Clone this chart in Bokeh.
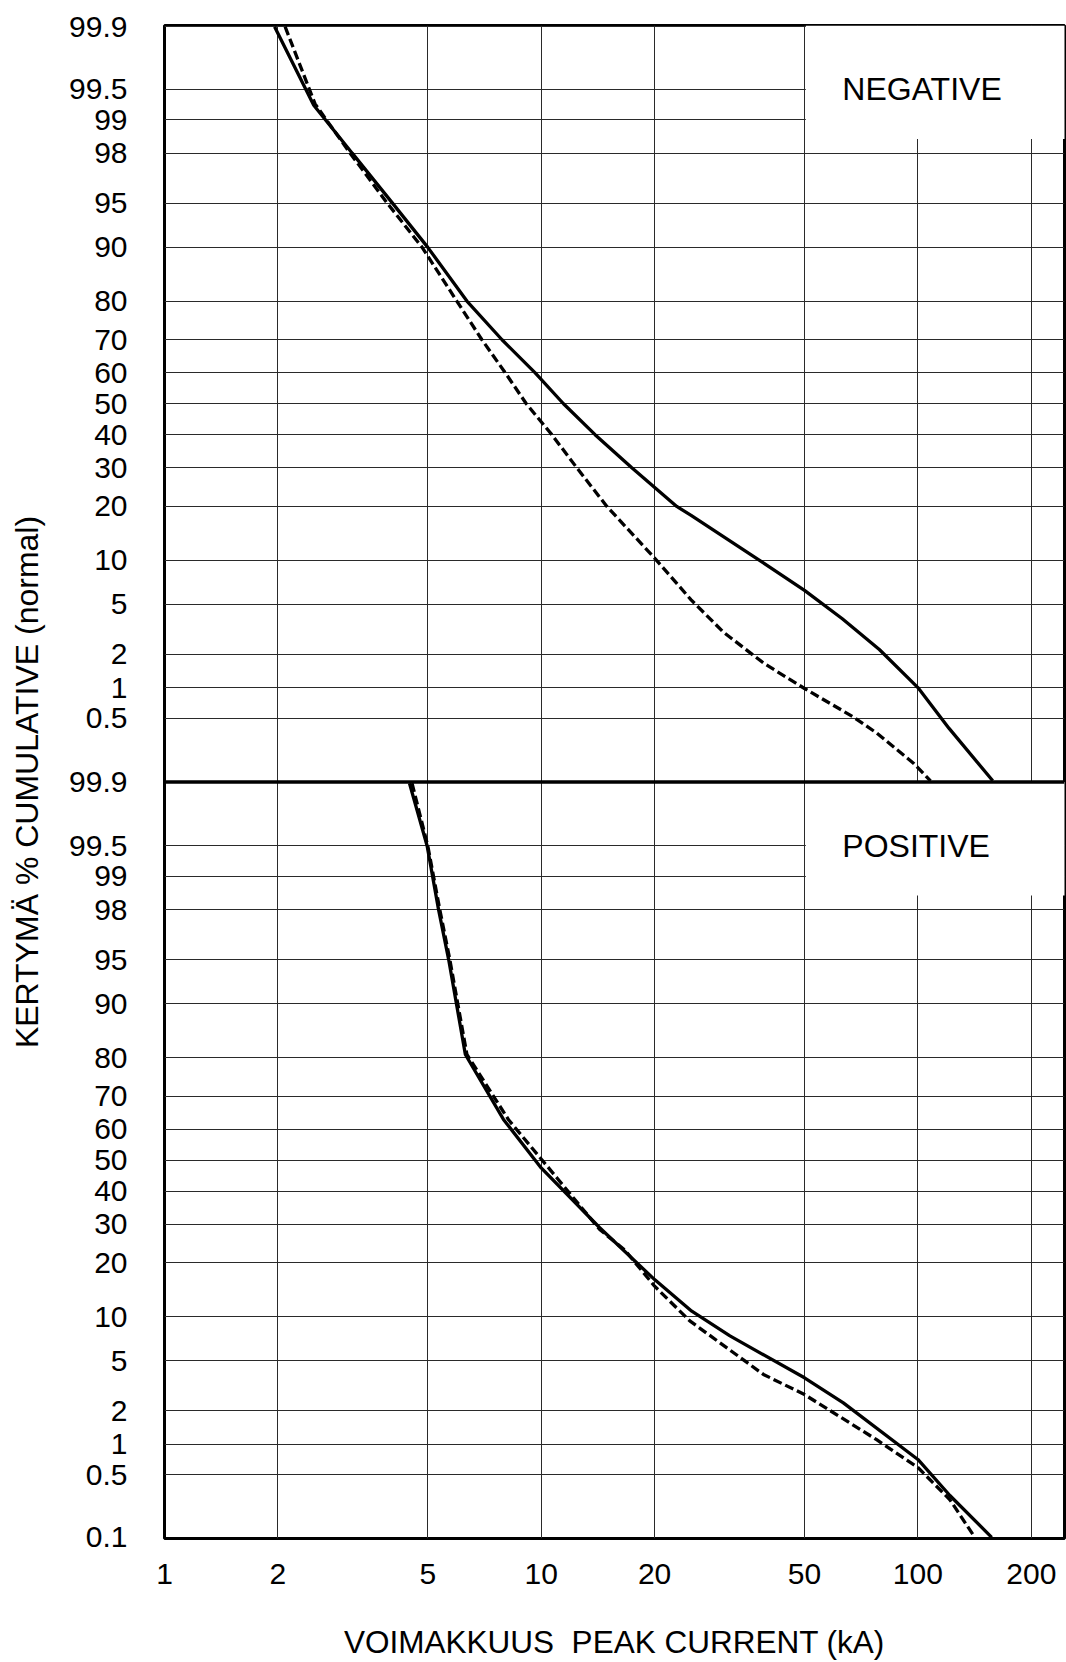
from statistics import NormalDist

from bokeh.plotting import figure
from bokeh.models import FixedTicker, Range1d, Span, PrintfTickFormatter
from bokeh.embed import file_html
from bokeh.resources import INLINE
from bokeh.core.properties import value

# ---------------- data (peak current kA, cumulative %) ----------------
neg_solid_ka = [1.96, 2.49, 3.15, 3.98, 5.0, 6.35, 7.87, 9.64, 11.46, 13.9, 17.4,
                22.9, 25.0, 37.9, 50.0, 63.0, 79.0, 100.0, 121.0, 158.0]
neg_solid_pct = [99.9, 99.28, 98.0, 95.2, 90.0, 80.0, 70.0, 60.0, 50.0, 40.0, 30.0,
                 20.0, 18.0, 10.0, 6.3, 3.9, 2.2, 1.0, 0.39, 0.1]

neg_dash_ka = [2.09, 2.51, 3.11, 3.90, 4.83, 5.97, 6.96, 8.03, 9.13, 10.67, 12.43,
               14.94, 20.0, 25.0, 30.5, 39.0, 50.0, 67.0, 77.6, 97.5, 108.0]
neg_dash_pct = [99.9, 99.3, 98.0, 95.0, 90.0, 80.0, 70.0, 60.0, 50.0, 40.0, 30.0,
                20.0, 10.3, 5.4, 3.05, 1.67, 0.98, 0.52, 0.35, 0.16, 0.1]

pos_solid_ka = [4.47, 4.98, 5.34, 5.68, 6.29, 7.94, 10.0, 14.3, 20.0, 25.1, 31.7, 50.0,
                63.4, 100.0, 121.6, 157.0]
pos_solid_pct = [99.9, 99.5, 98.0, 95.0, 80.7, 63.1, 47.5, 29.0, 16.4, 10.8, 7.5, 3.73,
                 2.34, 0.71, 0.3, 0.1]

pos_dash_ka = [4.54, 5.0, 5.38, 5.72, 6.35, 8.19, 11.0, 14.3, 16.7, 20.0, 24.8, 38.9,
               50.0, 77.7, 100.0, 121.6, 141.6]
pos_dash_pct = [99.9, 99.5, 98.0, 95.0, 80.7, 63.0, 44.3, 28.5, 23.0, 15.1, 9.4, 3.96,
                2.74, 1.1, 0.59, 0.27, 0.1]

prob_ticks = [99.9, 99.5, 99, 98, 95, 90, 80, 70, 60, 50, 40, 30, 20, 10, 5, 2, 1, 0.5]
x_ticks = [1, 2, 5, 10, 20, 50, 100, 200]
x_grid = [2, 5, 10, 20, 50, 100, 200]
panel_names = ["NEGATIVE", "POSITIVE"]

# ---------------- normal-probability (probit) panel scale ----------------
ND = NormalDist()
Z = 3.1                 # half height of one panel in probit units
OFFSETS = [2 * Z, 0.0]  # upper panel (negative), lower panel (positive)


def probit(pct, offset=0.0):
    return ND.inv_cdf(pct / 100.0) + offset


FONT = "Liberation Sans"

p = figure(width=1066, height=1662, x_axis_type="log",
           x_range=Range1d(1, 245), y_range=Range1d(-Z, 3 * Z),
           output_backend="svg", toolbar_location=None,
           min_border_left=164, min_border_right=2,
           min_border_top=25, min_border_bottom=123,
           background_fill_color="white", border_fill_color="white")

# tick positions / labels for both panels
tick_pos, tick_lab, grid_pos = [], [], []
for off in OFFSETS:
    for pr in prob_ticks:
        if off != OFFSETS[0] and pr == 99.9:
            continue
        y = round(probit(pr, off), 6)
        grid_pos.append(y)
        tick_pos.append(y)
        tick_lab.append(f"{pr:g}")
# bottom panel 99.9 label sits on the divider, 0.1 at the bottom
tick_pos.append(round(Z, 6)); tick_lab.append("99.9")
tick_pos.append(round(probit(0.1), 6)); tick_lab.append("0.1")

p.yaxis.ticker = FixedTicker(ticks=tick_pos)
p.yaxis.major_label_overrides = {t: l for t, l in zip(tick_pos, tick_lab)}
p.xaxis.ticker = FixedTicker(ticks=x_ticks)
p.xaxis.formatter = PrintfTickFormatter(format="%d")

p.xgrid.ticker = FixedTicker(ticks=x_grid)
p.ygrid.ticker = FixedTicker(ticks=grid_pos)
for g in (p.xgrid, p.ygrid):
    g.grid_line_color = "#2a2a2a"
    g.grid_line_width = 1
    g.grid_line_alpha = 1.0

for ax in (p.xaxis, p.yaxis):
    ax.axis_line_color = None
    ax.major_tick_line_color = None
    ax.minor_tick_line_color = None
    ax.major_label_text_font = FONT
    ax.major_label_text_font_size = "30px"
    ax.major_label_text_color = "black"
    ax.axis_label_text_font = FONT
    ax.axis_label_text_font_size = "32px"
    ax.axis_label_text_font_style = "normal"
    ax.axis_label_text_color = "black"

p.yaxis.major_label_standoff = 31
p.yaxis.axis_label = "KERTYMÄ % CUMULATIVE (normal)"
p.yaxis.axis_label_standoff = 21
p.xaxis.major_label_standoff = 19
p.xaxis.axis_label = "VOIMAKKUUS\u00a0 PEAK CURRENT (kA)"
p.xaxis.axis_label_text_font_size = "31.5px"
p.xaxis.axis_label_standoff = 37

p.outline_line_color = "black"
p.outline_line_width = 3
p.outline_line_alpha = 1.0

# white label boxes (upper right of each panel)
box_left = 50.4
box_right = 1000
box_bottom_pct = 98.5
p.quad(left=[box_left, box_left], right=[box_right, box_right],
       bottom=[probit(box_bottom_pct, o) for o in OFFSETS],
       top=[o + Z for o in OFFSETS],
       fill_color="white", line_color=None)

# curves
series = [
    (neg_solid_ka, neg_solid_pct, OFFSETS[0], "solid"),
    (neg_dash_ka, neg_dash_pct, OFFSETS[0], "9 4"),
    (pos_solid_ka, pos_solid_pct, OFFSETS[1], "solid"),
    (pos_dash_ka, pos_dash_pct, OFFSETS[1], "9 4"),
]
for ka, pct, off, dash in series:
    p.line(ka, [probit(v, off) for v in pct], line_color="black",
           line_width=3.3, line_dash=dash)

# panel names
p.text(x=[63, 63], y=[probit(99.5, o) for o in OFFSETS], text=panel_names,
       text_font=value(FONT), text_font_size="32px", text_color="black",
       text_align="left", text_baseline="middle")

# divider between panels
p.add_layout(Span(location=Z, dimension="width", line_color="black", line_width=3.5))

open("out.html", "w").write(file_html(p, INLINE))
